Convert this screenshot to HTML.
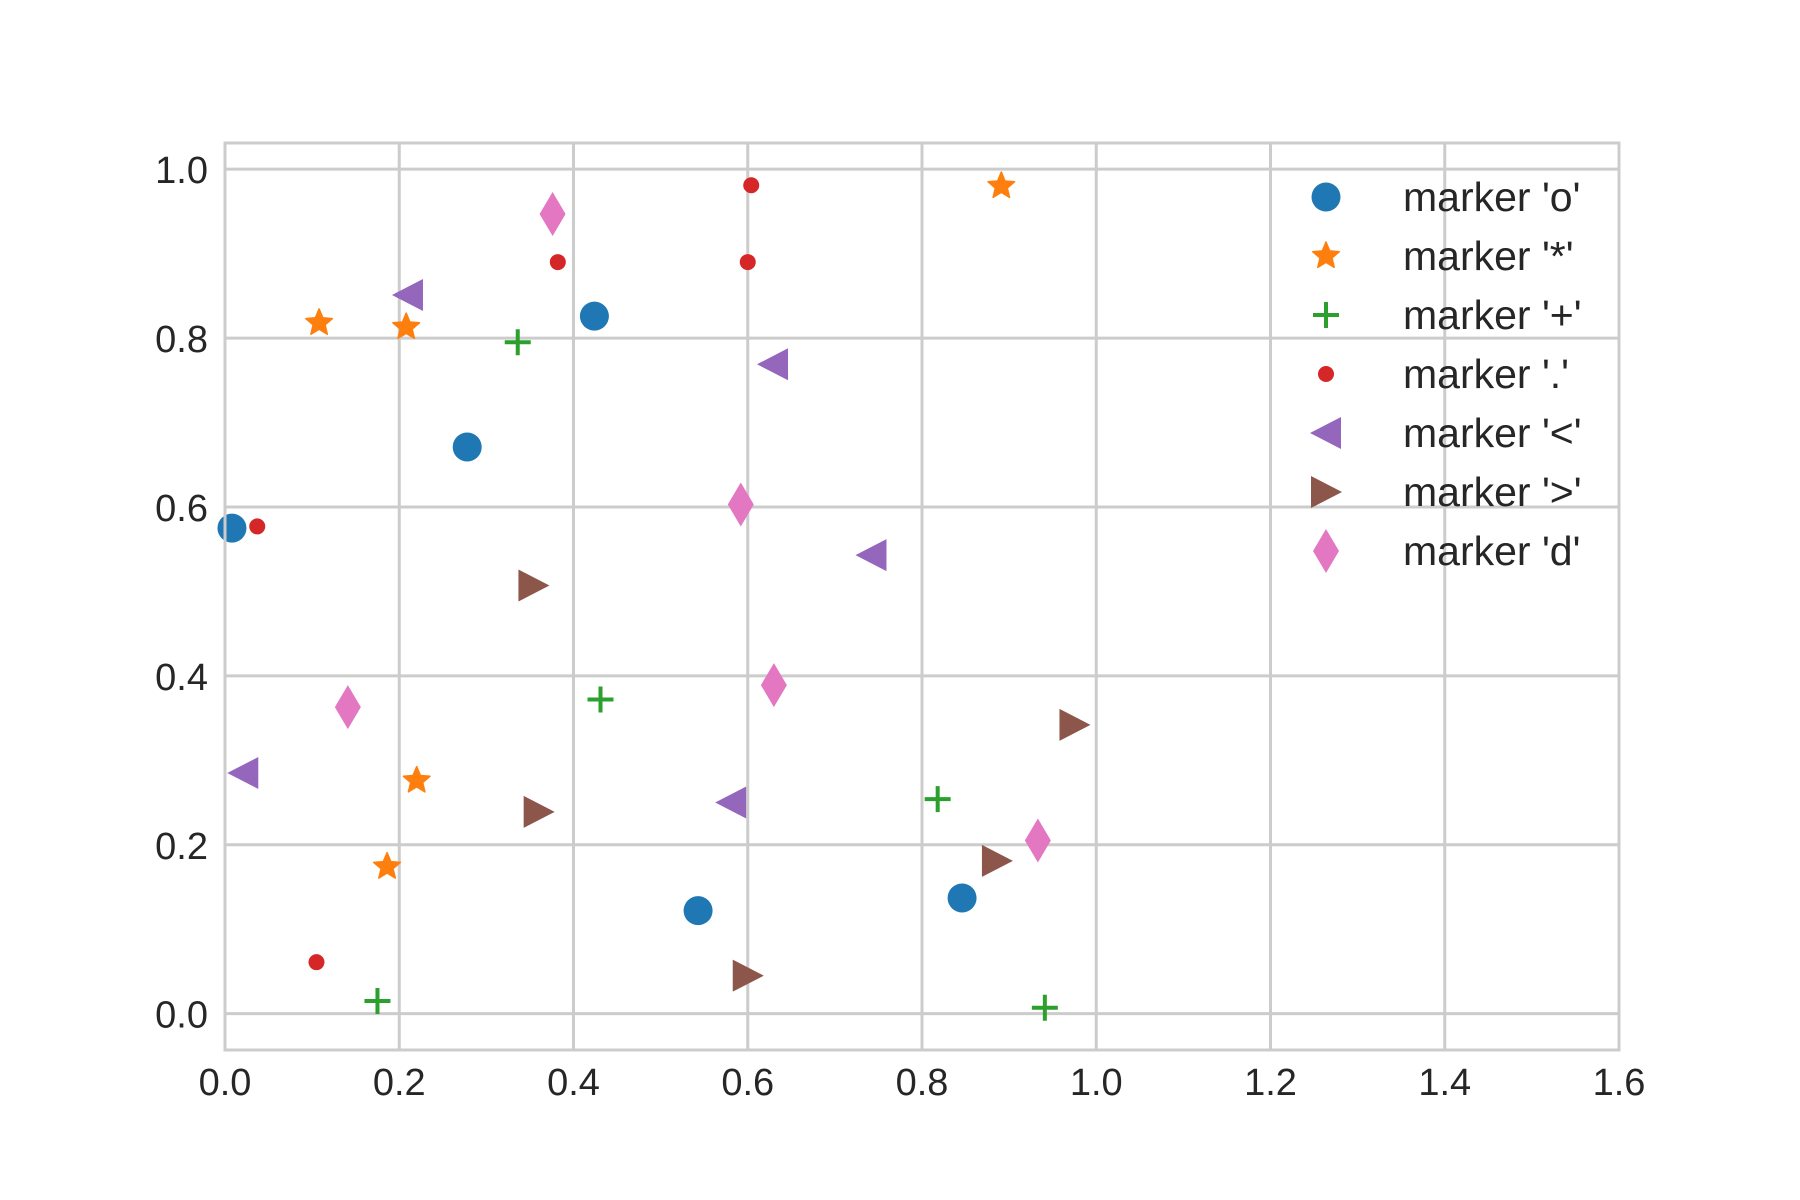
<!DOCTYPE html>
<html><head><meta charset="utf-8"><style>
html,body{margin:0;padding:0;background:#fff;}
svg{display:block;font-family:"Liberation Sans",Arial,sans-serif;}
</style></head><body>
<svg id="chart" width="1800" height="1200" viewBox="0 0 1800 1200" xmlns="http://www.w3.org/2000/svg">
<g id="grid"></g>
<g id="ticks"></g>
<g id="marks"></g>
<rect x="225" y="143" width="1394" height="907" fill="none" stroke="#cccccc" stroke-width="3"/>
<g id="legend"></g>
</svg>
<script>
const seriesNames = ["marker 'o'","marker '*'","marker '+'","marker '.'","marker '<'","marker '>'","marker 'd'"];
const markerKinds = ["o","*","+",".","<",">","d"];
const colors = ["#1f77b4","#ff7f0e","#2ca02c","#d62728","#9467bd","#8c564b","#e377c2"];
const xO = [0.008,0.278,0.424,0.543,0.846];
const yO = [0.575,0.671,0.826,0.122,0.137];
const xStar = [0.108,0.208,0.891,0.220,0.186];
const yStar = [0.818,0.813,0.980,0.276,0.174];
const xPlus = [0.336,0.431,0.818,0.175,0.941];
const yPlus = [0.795,0.372,0.254,0.015,0.007];
const xDot = [0.604,0.382,0.600,0.037,0.105];
const yDot = [0.981,0.890,0.890,0.577,0.061];
const xLeft = [0.210,0.629,0.742,0.021,0.581];
const yLeft = [0.851,0.769,0.543,0.285,0.250];
const xRight = [0.354,0.360,0.975,0.886,0.600];
const yRight = [0.507,0.239,0.342,0.181,0.045];
const xDiam = [0.376,0.592,0.141,0.630,0.933];
const yDiam = [0.947,0.603,0.363,0.389,0.205];
const xTicks = [0,0.2,0.4,0.6,0.8,1.0,1.2,1.4,1.6];
const xTickLabels = ["0.0","0.2","0.4","0.6","0.8","1.0","1.2","1.4","1.6"];
const yTicks = [0,0.2,0.4,0.6,0.8,1.0];
const yTickLabels = ["0.0","0.2","0.4","0.6","0.8","1.0"];

const NS="http://www.w3.org/2000/svg";
const X0=225,X1=1619,Y0=1050,Y1=143;
const xMin=0,xMax=1.6,yMin=-0.043,yMax=1.031;
function sx(v){return X0+(v-xMin)/(xMax-xMin)*(X1-X0);}
function sy(v){return Y0-(v-yMin)/(yMax-yMin)*(Y0-Y1);}
function mk(tag,attrs,parent){const e=document.createElementNS(NS,tag);for(const k in attrs)e.setAttribute(k,attrs[k]);parent.appendChild(e);return e;}

const grid=document.getElementById('grid'),ticks=document.getElementById('ticks');
xTicks.forEach((t,i)=>{
  const l=mk('line',{x1:sx(t),x2:sx(t),y1:Y1,y2:Y0,stroke:'#cccccc','stroke-width':3},grid);
  
  
  const tx=mk('text',{x:sx(t),y:1095,'text-anchor':'middle','font-size':38,fill:'#262626'},ticks);
  tx.textContent=xTickLabels[i];
  
  
});
yTicks.forEach((t,i)=>{
  const l=mk('line',{x1:X0,x2:X1,y1:sy(t),y2:sy(t),stroke:'#cccccc','stroke-width':3},grid);
  
  
  const tx=mk('text',{x:208,y:sy(t)+14,'text-anchor':'end','font-size':38,fill:'#262626'},ticks);
  tx.textContent=yTickLabels[i];
  
  
});

function starPts(cx,cy,R){const r=R*0.45;let p=[];for(let i=0;i<10;i++){const a=-Math.PI/2+i*Math.PI/5;const rr=i%2?r:R;p.push((cx+rr*Math.cos(a)).toFixed(1)+','+(cy+rr*Math.sin(a)).toFixed(1));}return p.join(' ');}
function drawMarker(kind,cx,cy,color,parent){
  let e;
  if(kind==='o') e=mk('circle',{cx,cy,r:14.5,fill:color},parent);
  else if(kind==='.') e=mk('circle',{cx,cy,r:8,fill:color},parent);
  else if(kind==='*') e=mk('polygon',{points:starPts(cx,cy,14),fill:color,stroke:color,'stroke-width':1.5,'stroke-linejoin':'round'},parent);
  else if(kind==='+') e=mk('path',{d:`M${cx-13},${cy}H${cx+13}M${cx},${cy-13}V${cy+13}`,stroke:color,'stroke-width':4,fill:'none'},parent);
  else if(kind==='<') e=mk('polygon',{points:`${cx-16},${cy} ${cx+15},${cy-16} ${cx+15},${cy+16}`,fill:color},parent);
  else if(kind==='>') e=mk('polygon',{points:`${cx+16},${cy} ${cx-15},${cy-16} ${cx-15},${cy+16}`,fill:color},parent);
  else if(kind==='d') e=mk('polygon',{points:`${cx},${cy-22} ${cx+13},${cy} ${cx},${cy+22} ${cx-13},${cy}`,fill:color},parent);
  return e;
}
const xs=[xO,xStar,xPlus,xDot,xLeft,xRight,xDiam];
const ys=[yO,yStar,yPlus,yDot,yLeft,yRight,yDiam];
const marks=document.getElementById('marks');
xs.forEach((arr,s)=>{
  arr.forEach((v,i)=>{
    const e=drawMarker(markerKinds[s],sx(v),sy(ys[s][i]),colors[s],marks);
    
    
  });
});
const legend=document.getElementById('legend');
seriesNames.forEach((n,s)=>{
  const y=197+s*59;
  const e=drawMarker(markerKinds[s],1326,y,colors[s],legend);
  
  
  const t=mk('text',{x:1403,y:y+14,'font-size':41,fill:'#262626'},legend);
  t.textContent=n;
  
  
});
</script>
</body></html>
